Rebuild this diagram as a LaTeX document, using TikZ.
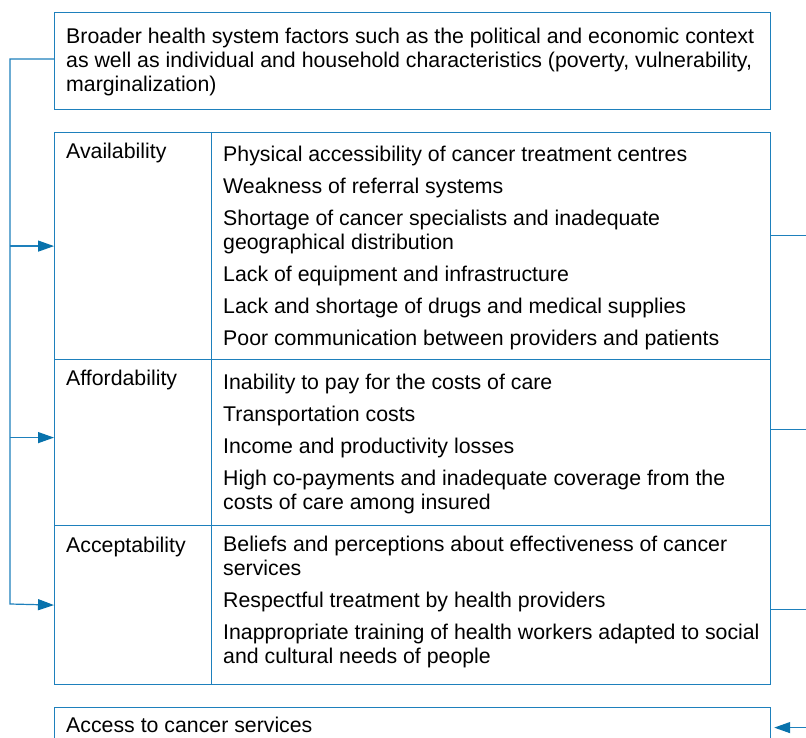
\documentclass[tikz,border=0pt]{standalone}
\usepackage{fontspec}
\setmainfont{Liberation Sans}
\usetikzlibrary{arrows.meta,positioning}
\definecolor{frameblue}{RGB}{30,128,188}
\definecolor{arrowblue}{RGB}{8,114,172}

\begin{document}
\begin{tikzpicture}[x=1pt, y=-1pt,
	cell/.style={draw=frameblue, line width=1.2pt, anchor=north west, inner sep=0pt},
	txt/.style={anchor=base west, align=left, inner sep=0pt, font=\fontsize{21.3}{24}\selectfont},
	link/.style={draw=frameblue, line width=1.2pt},
	tip/.style={link, -{Triangle[length=16pt,width=11pt,color=arrowblue]}}]
	
		\def \xl {54}
		\def \xm {211}
		\def \wl {157}
		\def \wr {559}
	
		\clip (0,0) rectangle (806,738);
		\fill[white] (0,0) rectangle (806,738);
		
		% top box (multi-line texts sit on their last baseline)
		\node[cell, minimum width=716pt, minimum height=97pt] (context) at (\xl,12) {};
		\node[txt] (contexttext) at (66,92) {Broader health system factors such as the political and economic context\\as well as individual and household characteristics (poverty, vulnerability,\\marginalization)};
		
		% table rows
		\node[cell, minimum width=\wl pt, minimum height=227pt] (availcell) at (\xl,132) {};
		\node[cell, minimum width=\wr pt, minimum height=227pt] (availlist) at (\xm,132) {};
		\node[cell, minimum width=\wl pt, minimum height=166pt] (affordcell) at (\xl,359) {};
		\node[cell, minimum width=\wr pt, minimum height=166pt] (affordlist) at (\xm,359) {};
		\node[cell, minimum width=\wl pt, minimum height=159pt] (acceptcell) at (\xl,525) {};
		\node[cell, minimum width=\wr pt, minimum height=159pt] (acceptlist) at (\xm,525) {};
		
		\node[txt] (avail) at (66,159) {Availability};
		\node[txt] (afford) at (66,385) {Affordability};
		\node[txt] (accept) at (66,552) {Acceptability};
		
		\node[txt] (availitems) at (223,345) {Physical accessibility of cancer treatment centres\\[8pt]
			Weakness of referral systems\\[8pt]
			Shortage of cancer specialists and inadequate\\geographical distribution\\[8pt]
			Lack of equipment and infrastructure\\[8pt]
			Lack and shortage of drugs and medical supplies\\[8pt]
			Poor communication between providers and patients};
		\node[txt] (afforditems) at (223,509) {Inability to pay for the costs of care\\[8pt]
			Transportation costs\\[8pt]
			Income and productivity losses\\[8pt]
			High co-payments and inadequate coverage from the\\costs of care among insured};
		\node[txt] (acceptitems) at (223,663) {Beliefs and perceptions about effectiveness of cancer\\services\\[8pt]
			Respectful treatment by health providers\\[8pt]
			Inappropriate training of health workers adapted to social\\and cultural needs of people};
		
		% bottom box
		\node[cell, minimum width=716pt, minimum height=40pt] (access) at (\xl,707) {};
		\node[txt] (accesstext) at (66,732) {Access to cancer services};
		
		% left connector
		\coordinate (busend) at (10,604);
		\coordinate (availin) at (availcell.west);
		\coordinate (affordin) at ([yshift=5pt]affordcell.west);
		\draw[tip] ([yshift=2pt]context.west) -| (busend) -- (acceptcell.west);
		\foreach \row in {availin, affordin}{
			\draw[tip] (busend |- \row) -- (\row);
		}
		
		% right connector (runs off the edge)
		\coordinate (rbus) at (840,0);
		\coordinate (availout) at ([yshift=10.5pt]availlist.east);
		\coordinate (affordout) at ([yshift=13pt]affordlist.east);
		\coordinate (acceptout) at ([yshift=-4.5pt]acceptlist.east);
		\foreach \row in {availout, affordout, acceptout}{
			\draw[link] (\row) -- (rbus |- \row);
		}
		\draw[tip] (rbus |- availout) |- ([xshift=3pt]access.east);

	\end{tikzpicture}
\end{document}
